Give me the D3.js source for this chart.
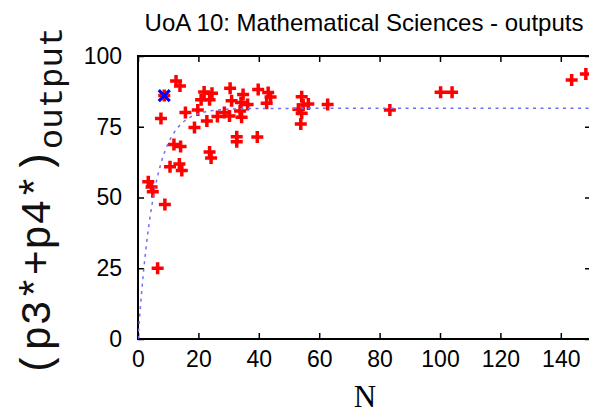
<!DOCTYPE html>
<html>
<head>
<meta charset="utf-8">
<script src="https://cdn.jsdelivr.net/npm/d3@7"></script>
<style>
  html, body { margin: 0; padding: 0; background: #fff; }
  svg { display: block; }
  .tick text { font-family: "Liberation Sans", Arial, sans-serif; font-size: 23px; fill: #000; }
  .tick line { stroke: #000; stroke-width: 1.5; }
  .ylab { font-family: "Liberation Mono", "Courier New", "DejaVu Sans Mono", monospace; }
</style>
</head>
<body>
<svg id="chart" width="589" height="416"></svg>
<script>
// Institutions: number of staff submitted (N) and share of 3*/4* outputs (%)
const staffN = [12.6, 13.9, 8.7, 7.6, 15.7, 19.8, 18.7, 22.8, 21.9, 20.9,
  24.5, 23.7, 26.3, 28.6, 30.3, 33.8, 34.3, 30.5, 31.0, 34.8,
  34.1, 36.3, 39.8, 43.1, 43.9, 42.6, 32.7, 32.7, 39.5, 23.7,
  24.2, 11.9, 14.1, 10.6, 13.7, 14.5, 3.4, 4.5, 4.9, 8.9,
  6.5, 54.2, 56.4, 54.7, 53.1, 54.2, 53.9, 62.8, 83.4, 100.2,
  104.0, 143.6, 148.3];
const outputScore = [91.2, 89.4, 86.0, 77.9, 80.0, 80.9, 74.7, 77.0, 87.3, 84.5,
  86.8, 84.5, 78.6, 80.0, 78.8, 80.6, 78.4, 88.6, 84.2, 86.4,
  83.6, 82.9, 88.2, 87.1, 85.5, 83.3, 71.5, 69.7, 71.4, 66.1,
  64.0, 68.7, 68.0, 60.9, 61.8, 59.5, 55.6, 53.7, 52.0, 47.5,
  25.0, 85.6, 83.0, 82.7, 81.2, 79.8, 76.0, 82.9, 80.9, 87.2,
  87.2, 91.5, 93.6];

// Highlighted institution
const highlightN = 8.7;
const highlightScore = 86.0;

// Saturating fit: plateau * (1 - exp(-N / scale))
const fitPlateau = 81.5;
const fitScale = 5.3;

const xTicks = [0, 20, 40, 60, 80, 100, 120, 140];
const yTicks = [0, 25, 50, 75, 100];

const titleText = "UoA 10: Mathematical Sciences - outputs";
const xLabel = "N";
const yLabelMain = "(p3*+p4*)";
const yLabelSub = "output";

const svg = d3.select("#chart");
const plotLeft = 138, plotRight = 591, plotTop = 56, plotBottom = 339;

const x = d3.scaleLinear().domain([0, 150]).range([plotLeft, plotRight]);
const y = d3.scaleLinear().domain([0, 100]).range([plotBottom, plotTop]);

svg.append("defs").append("clipPath").attr("id", "plotClip")
  .append("rect").attr("x", plotLeft).attr("y", plotTop)
  .attr("width", plotRight - plotLeft).attr("height", plotBottom - plotTop);

// Axes with inward ticks on all four sides
const gx = svg.append("g").attr("transform", `translate(0,${plotBottom})`)
  .call(d3.axisBottom(x).tickValues(xTicks).tickSizeInner(-6).tickSizeOuter(0).tickPadding(12));
const gy = svg.append("g").attr("transform", `translate(${plotLeft},0)`)
  .call(d3.axisLeft(y).tickValues(yTicks).tickSizeInner(-6).tickSizeOuter(0).tickPadding(16));
const gt = svg.append("g").attr("transform", `translate(0,${plotTop})`)
  .call(d3.axisTop(x).tickValues(xTicks).tickSizeInner(-6).tickSizeOuter(0).tickFormat(""));
const gr = svg.append("g").attr("transform", `translate(${plotRight},0)`)
  .call(d3.axisRight(y).tickValues(yTicks).tickSizeInner(-6).tickSizeOuter(0).tickFormat(""));
[gx, gy, gt, gr].forEach(g => g.select(".domain").remove());
gx.selectAll(".tick text").attr("dy", "0.71em");

svg.append("rect")
  .attr("x", plotLeft).attr("y", plotTop)
  .attr("width", plotRight - plotLeft).attr("height", plotBottom - plotTop)
  .attr("fill", "none").attr("stroke", "#000").attr("stroke-width", 2);

// Data points as red plus marks
const arm = 6;
const pts = svg.append("g").attr("stroke", "#ff0000").attr("stroke-width", 3.5);
staffN.forEach((n, i) => {
  const cx = x(n), cy = y(outputScore[i]);
  pts.append("path").attr("d", `M${cx - arm},${cy}H${cx + arm}M${cx},${cy - arm}V${cy + arm}`);
});

// Highlighted institution as a blue cross
const hx = x(highlightN), hy = y(highlightScore), h = 5.5;
svg.append("path")
  .attr("d", `M${hx - h},${hy - h}L${hx + h},${hy + h}M${hx - h},${hy + h}L${hx + h},${hy - h}`)
  .attr("stroke", "#0000ff").attr("stroke-width", 3.2);

// Fitted curve
const fitN = d3.range(0, 150.01, 0.5);
const fitLine = d3.line().x(n => x(n)).y(n => y(fitPlateau * (1 - Math.exp(-n / fitScale))));
svg.append("path")
  .datum(fitN)
  .attr("clip-path", "url(#plotClip)")
  .attr("d", fitLine)
  .attr("fill", "none")
  .attr("stroke", "#6f6ff5")
  .attr("stroke-width", 1.5)
  .attr("stroke-dasharray", "3,4.5");

// Title
svg.append("text")
  .attr("x", 364).attr("y", 31)
  .attr("text-anchor", "middle")
  .attr("font-family", "'Liberation Sans', Arial, sans-serif")
  .attr("font-size", 24)
  .text(titleText);

// X label
svg.append("text")
  .attr("x", 365).attr("y", 407)
  .attr("text-anchor", "middle")
  .attr("font-family", "'Liberation Serif', 'Times New Roman', serif")
  .attr("font-size", 31)
  .text(xLabel);

// Y label with subscript
const yl = svg.append("text")
  .attr("class", "ylab")
  .attr("transform", "translate(50,376) rotate(-90)")
  .attr("font-size", 42)
  .attr("fill", "#111");
yl.append("tspan").text(yLabelMain);
yl.append("tspan").attr("font-size", 34).attr("dy", 12).text(yLabelSub);
</script>
</body>
</html>
